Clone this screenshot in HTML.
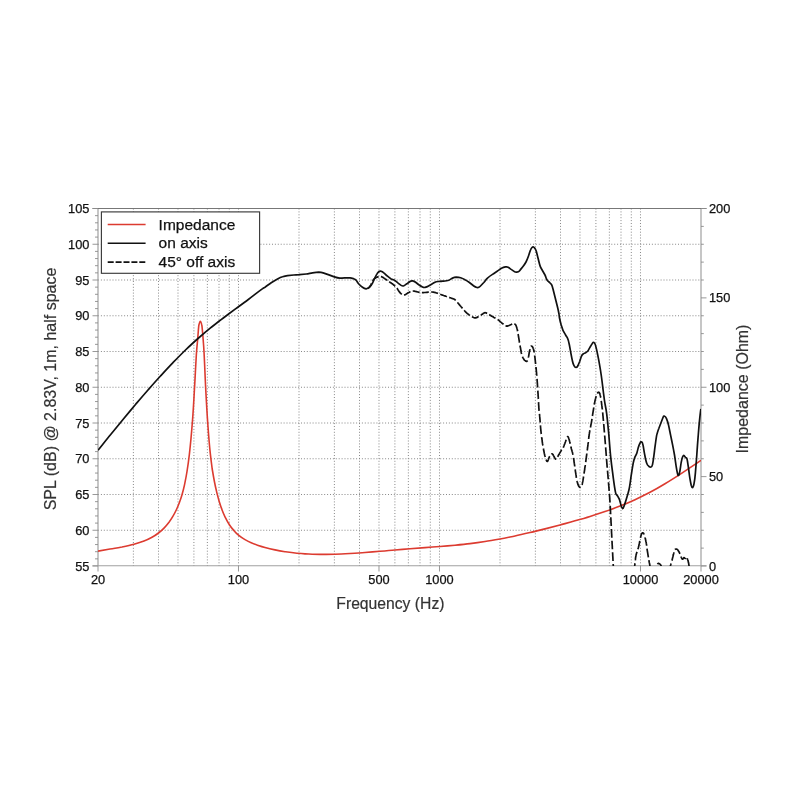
<!DOCTYPE html><html><head><meta charset="utf-8"><title>Frequency response</title>
<style>html,body{margin:0;padding:0;background:#fff}svg{display:block;will-change:transform}text{font-family:"Liberation Sans",Arial,sans-serif}.t{fill:#111;stroke:#111;stroke-width:.25px}.l{fill:#333;stroke:#333;stroke-width:.2px}</style></head><body>
<svg width="800" height="800" viewBox="0 0 800 800">
<rect width="800" height="800" fill="#fff"/>
<path d="M98.0 530.25H701.0M98.0 494.50H701.0M98.0 458.75H701.0M98.0 423.00H701.0M98.0 387.25H701.0M98.0 351.50H701.0M98.0 315.75H701.0M98.0 280.00H701.0M98.0 244.25H701.0M133.39 208.5V566.0M158.51 208.5V566.0M177.99 208.5V566.0M193.90 208.5V566.0M207.36 208.5V566.0M219.01 208.5V566.0M229.30 208.5V566.0M238.49 208.5V566.0M299.00 208.5V566.0M334.39 208.5V566.0M359.51 208.5V566.0M378.99 208.5V566.0M394.90 208.5V566.0M408.36 208.5V566.0M420.01 208.5V566.0M430.30 208.5V566.0M439.49 208.5V566.0M500.00 208.5V566.0M535.39 208.5V566.0M560.51 208.5V566.0M579.99 208.5V566.0M595.90 208.5V566.0M609.36 208.5V566.0M621.01 208.5V566.0M631.30 208.5V566.0M640.49 208.5V566.0" stroke="#7a7a7a" stroke-width="0.9" stroke-dasharray="1 1.9" fill="none"/>
<path d="M98.0 208.5V566.0M701.0 208.5V566.0" stroke="#a8a8a8" stroke-width="1.3" fill="none"/>
<path d="M92.5 208.5H706.5" stroke="#707070" stroke-width="0.95" fill="none"/>
<path d="M92.5 565.8H706.5" stroke="#a0a0a0" stroke-width="1.1" fill="none"/>
<path d="M92.5 566.00H98.0M95.0 558.85H98.0M95.0 551.70H98.0M95.0 544.55H98.0M95.0 537.40H98.0M92.5 530.25H98.0M95.0 523.10H98.0M95.0 515.95H98.0M95.0 508.80H98.0M95.0 501.65H98.0M92.5 494.50H98.0M95.0 487.35H98.0M95.0 480.20H98.0M95.0 473.05H98.0M95.0 465.90H98.0M92.5 458.75H98.0M95.0 451.60H98.0M95.0 444.45H98.0M95.0 437.30H98.0M95.0 430.15H98.0M92.5 423.00H98.0M95.0 415.85H98.0M95.0 408.70H98.0M95.0 401.55H98.0M95.0 394.40H98.0M92.5 387.25H98.0M95.0 380.10H98.0M95.0 372.95H98.0M95.0 365.80H98.0M95.0 358.65H98.0M92.5 351.50H98.0M95.0 344.35H98.0M95.0 337.20H98.0M95.0 330.05H98.0M95.0 322.90H98.0M92.5 315.75H98.0M95.0 308.60H98.0M95.0 301.45H98.0M95.0 294.30H98.0M95.0 287.15H98.0M92.5 280.00H98.0M95.0 272.85H98.0M95.0 265.70H98.0M95.0 258.55H98.0M95.0 251.40H98.0M92.5 244.25H98.0M95.0 237.10H98.0M95.0 229.95H98.0M95.0 222.80H98.0M95.0 215.65H98.0M92.5 208.50H98.0M701.0 566.00H706.5M701.0 548.12H703.8M701.0 530.25H703.8M701.0 512.38H703.8M701.0 494.50H703.8M701.0 476.62H706.5M701.0 458.75H703.8M701.0 440.88H703.8M701.0 423.00H703.8M701.0 405.12H703.8M701.0 387.25H706.5M701.0 369.38H703.8M701.0 351.50H703.8M701.0 333.62H703.8M701.0 315.75H703.8M701.0 297.88H706.5M701.0 280.00H703.8M701.0 262.12H703.8M701.0 244.25H703.8M701.0 226.38H703.8M701.0 208.50H706.5M98.00 566.0V571.5M238.49 566.0V571.5M378.99 566.0V571.5M439.49 566.0V571.5M640.49 566.0V571.5M701.00 566.0V571.5" stroke="#8c8c8c" stroke-width="0.9" fill="none"/>
<text x="89.4" y="570.55" font-size="12.8" text-anchor="end" class="t">55</text>
<text x="89.4" y="534.80" font-size="12.8" text-anchor="end" class="t">60</text>
<text x="89.4" y="499.05" font-size="12.8" text-anchor="end" class="t">65</text>
<text x="89.4" y="463.30" font-size="12.8" text-anchor="end" class="t">70</text>
<text x="89.4" y="427.55" font-size="12.8" text-anchor="end" class="t">75</text>
<text x="89.4" y="391.80" font-size="12.8" text-anchor="end" class="t">80</text>
<text x="89.4" y="356.05" font-size="12.8" text-anchor="end" class="t">85</text>
<text x="89.4" y="320.30" font-size="12.8" text-anchor="end" class="t">90</text>
<text x="89.4" y="284.55" font-size="12.8" text-anchor="end" class="t">95</text>
<text x="89.4" y="248.80" font-size="12.8" text-anchor="end" class="t">100</text>
<text x="89.4" y="213.05" font-size="12.8" text-anchor="end" class="t">105</text>
<text x="709" y="570.55" font-size="12.8" class="t">0</text>
<text x="709" y="481.18" font-size="12.8" class="t">50</text>
<text x="709" y="391.80" font-size="12.8" class="t">100</text>
<text x="709" y="302.43" font-size="12.8" class="t">150</text>
<text x="709" y="213.05" font-size="12.8" class="t">200</text>
<text x="98.00" y="584.4" font-size="12.8" text-anchor="middle" class="t">20</text>
<text x="238.49" y="584.4" font-size="12.8" text-anchor="middle" class="t">100</text>
<text x="378.99" y="584.4" font-size="12.8" text-anchor="middle" class="t">500</text>
<text x="439.49" y="584.4" font-size="12.8" text-anchor="middle" class="t">1000</text>
<text x="640.49" y="584.4" font-size="12.8" text-anchor="middle" class="t">10000</text>
<text x="701.00" y="584.4" font-size="12.8" text-anchor="middle" class="t">20000</text>
<text transform="translate(390.4 608.8) scale(.952 1)" font-size="16.5" text-anchor="middle" class="l">Frequency (Hz)</text>
<text transform="translate(56.2 389) rotate(-90) scale(.941 1)" font-size="17" text-anchor="middle" class="l">SPL (dB) @ 2.83V, 1m, half space</text>
<text transform="translate(748.3 389) rotate(-90) scale(.941 1)" font-size="17" text-anchor="middle" class="l">Impedance (Ohm)</text>
<clipPath id="c"><rect x="98" y="208.5" width="603" height="357.5"/></clipPath>
<g clip-path="url(#c)" fill="none" stroke-linejoin="round">
<path d="M98.0 551.1C102.0 550.4 106.0 549.7 110.0 549.0C114.0 548.4 118.0 547.7 122.0 547.0C126.0 546.2 130.0 545.4 134.0 544.3C137.3 543.4 140.7 542.4 144.0 541.1C146.7 540.1 149.3 538.8 152.0 537.3C154.2 536.1 156.3 534.7 158.5 533.0C160.3 531.6 162.2 530.0 164.0 528.1C165.7 526.4 167.3 524.4 169.0 522.2C170.3 520.4 171.7 518.4 173.0 516.1C174.2 514.1 175.3 512.0 176.5 509.5C177.5 507.4 178.5 505.0 179.5 502.3C180.3 500.1 181.2 497.6 182.0 494.7C182.8 491.9 183.7 488.6 184.5 484.8C185.3 481.0 186.2 476.7 187.0 471.5C187.8 466.6 188.6 461.0 189.4 454.1C190.4 445.5 191.4 434.7 192.4 421.8C193.1 413.0 193.8 401.3 194.4 390.0C195.2 377.6 195.9 359.9 196.7 350.0C197.0 346.0 197.3 343.5 197.6 340.0C197.8 337.6 198.0 334.7 198.2 332.5C198.4 329.7 198.7 326.1 198.9 325.0C199.4 322.9 199.8 321.2 200.3 321.2C200.8 321.2 201.3 322.9 201.8 325.0C202.1 326.1 202.3 329.7 202.6 332.5C202.8 334.7 203.0 337.4 203.2 340.0C203.4 343.2 203.7 346.0 203.9 350.0C204.5 359.6 205.1 377.2 205.7 388.6C206.4 401.8 207.1 414.2 207.8 424.0C208.6 435.3 209.4 445.1 210.2 452.7C210.9 459.2 211.6 464.5 212.2 469.0C213.0 473.8 213.7 477.8 214.4 481.5C215.2 485.7 216.1 489.5 216.9 492.9C217.6 495.7 218.3 498.3 219.0 500.7C220.0 503.9 220.9 506.9 221.9 509.4C222.9 512.2 224.0 514.7 225.0 516.8C226.5 519.8 227.9 522.5 229.4 524.7C230.8 526.9 232.3 528.8 233.8 530.4C235.3 532.2 236.9 533.8 238.5 535.1C240.7 536.9 242.8 538.4 245.0 539.6C247.1 540.8 249.2 541.9 251.2 542.8C253.3 543.7 255.4 544.5 257.5 545.2C260.0 546.0 262.5 546.8 265.0 547.5C268.3 548.4 271.7 549.2 275.0 549.9C278.3 550.6 281.7 551.2 285.0 551.7C291.7 552.6 298.3 553.5 305.0 553.9C310.0 554.1 315.0 554.4 320.0 554.4C325.0 554.4 330.0 554.3 335.0 554.2C340.0 554.1 345.0 553.8 350.0 553.5C355.0 553.2 360.0 552.9 365.0 552.5C370.0 552.1 375.0 551.7 380.0 551.3C385.0 550.9 390.0 550.5 395.0 550.0C400.0 549.6 405.0 549.2 410.0 548.8C415.0 548.4 420.0 548.0 425.0 547.6C430.0 547.2 435.0 546.9 440.0 546.5C445.0 546.1 450.0 545.6 455.0 545.2C460.0 544.7 465.0 544.2 470.0 543.6C475.0 543.0 480.0 542.3 485.0 541.5C490.0 540.8 495.0 539.9 500.0 539.0C505.0 538.1 510.0 537.0 515.0 536.0C520.0 534.9 525.0 533.7 530.0 532.5C535.0 531.4 540.0 530.1 545.0 528.9C550.0 527.6 555.0 526.3 560.0 525.0C565.0 523.6 570.0 522.3 575.0 520.8C580.0 519.4 585.0 518.0 590.0 516.4C595.0 514.9 600.0 513.3 605.0 511.6C610.0 509.9 615.0 508.1 620.0 506.1C625.0 504.1 630.0 502.0 635.0 499.7C640.0 497.4 645.0 494.9 650.0 492.3C655.0 489.6 660.0 486.7 665.0 483.7C670.0 480.7 675.0 477.5 680.0 474.3C685.0 471.0 690.0 467.6 695.0 464.3C697.0 463.0 699.0 461.6 701.0 460.3" stroke="#dc3b30" stroke-width="1.6"/>
<path d="M368.0 288.4L368.5 288.1L369.0 287.7L369.4 287.2L369.8 286.8L370.1 286.3L370.4 285.7L370.7 285.2L371.0 284.6L371.2 284.1L371.5 283.5L371.5 283.5M372.7 281.0L373.0 280.4L373.3 279.9L373.7 279.4L374.1 279.0L374.6 278.6L375.1 278.2L375.6 277.9L376.1 277.6L376.6 277.3L377.2 277.1L377.8 276.9L378.4 276.7L378.6 276.6M380.9 276.6L381.5 276.7L382.0 276.9L382.6 277.2L383.1 277.5L383.6 277.8L384.1 278.2L384.6 278.5L385.1 278.9L385.6 279.2L386.1 279.6L386.6 279.9L387.1 280.3L387.1 280.4M389.2 281.7L389.7 282.1L390.2 282.4L390.7 282.8L391.2 283.1L391.7 283.4L392.2 283.8L392.7 284.1L393.2 284.5L393.6 284.9L394.1 285.2L394.6 285.6L395.0 286.1L395.2 286.2M396.9 288.1L397.3 288.6L397.6 289.1L397.9 289.7L398.3 290.2L398.6 290.7L398.9 291.2L399.3 291.7L399.6 292.2L400.0 292.6L400.4 293.1L400.9 293.5L401.3 293.9L401.8 294.3L401.8 294.3M404.0 295.0L404.6 294.9L405.1 294.7L405.7 294.4L406.2 294.1L406.7 293.7L407.2 293.4L407.7 293.1L408.2 292.8L408.8 292.5L409.3 292.2L409.8 291.9L410.4 291.6L410.4 291.6M412.7 291.0L413.3 291.0L413.9 291.1L414.5 291.2L415.1 291.3L415.6 291.5L416.2 291.6L416.8 291.7L417.4 291.9L418.0 292.0L418.6 292.2L419.2 292.3L419.6 292.4M421.9 292.6L422.5 292.6L423.1 292.6L423.7 292.6L424.3 292.5L424.9 292.5L425.5 292.5L426.1 292.4L426.7 292.3L427.3 292.3L427.9 292.2L428.5 292.1L428.8 292.1M431.1 292.0L431.7 292.0L432.3 292.0L432.9 292.1L433.5 292.2L434.1 292.3L434.7 292.4L435.3 292.6L435.9 292.8L436.5 293.0L437.0 293.1L437.6 293.3L438.0 293.5M440.2 294.3L440.8 294.5L441.4 294.7L441.9 294.9L442.5 295.1L443.1 295.3L443.6 295.5L444.2 295.7L444.8 295.9L445.4 296.1L445.9 296.3L446.5 296.5L446.9 296.7M449.2 297.4L449.7 297.6L450.3 297.8L450.9 298.0L451.5 298.2L452.0 298.4L452.6 298.6L453.2 298.8L453.7 299.0L454.3 299.3L454.8 299.6L455.2 300.0L455.7 300.4M457.4 302.4L457.8 302.8L458.2 303.3L458.6 303.7L459.0 304.2L459.3 304.7L459.7 305.1L460.1 305.6L460.5 306.0L460.9 306.5L461.3 307.0L461.7 307.4L462.1 307.9L462.5 308.4L462.5 308.4M464.2 310.3L464.6 310.8L465.0 311.3L465.4 311.7L465.8 312.1L466.3 312.6L466.7 313.0L467.2 313.4L467.7 313.7L468.1 314.1L468.6 314.5L469.1 314.9L469.6 315.2L469.9 315.4M472.0 316.6L472.5 316.9L473.1 317.2L473.6 317.5L474.2 317.7L474.8 317.9L475.4 317.9L476.0 317.8L476.5 317.6L477.1 317.4L477.6 317.1L478.1 316.8L478.6 316.5M480.7 315.2L481.2 314.9L481.7 314.5L482.2 314.2L482.7 313.9L483.2 313.5L483.7 313.2L484.2 312.9L484.8 312.7L485.4 312.7L486.0 312.9L486.5 313.1L487.1 313.4L487.1 313.4M489.2 314.6L489.7 314.9L490.2 315.3L490.8 315.6L491.3 315.9L491.8 316.2L492.4 316.5L492.9 316.8L493.4 317.1L493.9 317.4L494.5 317.7L495.0 318.0L495.5 318.3L495.5 318.3M497.6 319.5L498.1 319.8L498.6 320.2L499.1 320.6L499.5 321.0L500.0 321.4L500.4 321.8L500.9 322.2L501.4 322.6L501.8 323.0L502.3 323.4L502.8 323.7L503.3 324.1L503.5 324.3M505.5 325.7L506.1 325.9L506.7 326.1L507.3 326.1L507.8 325.9L508.4 325.7L509.0 325.5L509.5 325.2L510.1 325.0L510.6 324.7L511.2 324.5L511.7 324.2L512.2 324.0M514.4 323.7L514.9 324.1L515.3 324.5L515.7 324.9L516.0 325.5L516.2 326.0L516.4 326.6L516.6 327.2L516.8 327.8L517.0 328.4L517.1 328.9L517.3 329.6L517.4 330.2L517.5 330.8L517.6 331.2M518.1 334.0L518.2 334.6L518.3 335.2L518.4 335.8L518.5 336.4L518.6 337.0L518.7 337.6L518.8 338.2L518.9 338.8L519.0 339.4L519.1 340.1L519.2 340.7L519.3 341.3L519.4 341.9L519.5 342.5L519.6 342.6M520.0 345.5L520.1 346.1L520.2 346.7L520.3 347.3L520.5 347.9L520.6 348.6L520.7 349.2L520.8 349.8L520.9 350.5L521.0 351.1L521.1 351.7L521.2 352.3L521.3 352.9L521.5 353.5L521.6 354.0M522.4 356.8L522.7 357.3L523.0 357.9L523.3 358.4L523.6 358.9L523.9 359.4L524.3 359.9L524.7 360.3L525.2 360.7L525.7 361.1L526.2 361.3L526.8 361.3L527.3 360.9L527.6 360.5M528.3 357.7L528.4 357.1L528.6 356.5L528.7 355.9L528.8 355.3L528.9 354.7L529.0 354.1L529.1 353.4L529.2 352.8L529.3 352.2L529.5 351.6L529.6 350.9L529.7 350.3L529.9 349.7L530.0 349.2M530.8 346.4L531.2 346.0L531.8 346.2L532.2 346.5L532.6 347.0L532.9 347.6L533.1 348.2L533.3 348.7L533.5 349.3L533.7 349.9L533.8 350.5L533.9 351.1L534.1 351.7L534.2 352.3L534.2 352.6M534.7 355.5L534.7 356.1L534.8 356.7L534.9 357.4L535.0 358.1L535.1 358.7L535.1 359.4L535.2 360.0L535.3 360.6L535.3 361.2L535.4 361.9L535.5 362.5L535.5 363.2L535.6 363.8L535.6 364.1M536.0 367.1L536.0 367.8L536.1 368.5L536.2 369.1L536.2 369.7L536.3 370.3L536.3 370.9L536.4 371.6L536.5 372.2L536.5 372.9L536.6 373.6L536.6 374.2L536.7 374.9L536.8 375.7L536.8 375.8M537.0 378.8L537.1 379.5L537.1 380.1L537.2 380.8L537.2 381.5L537.3 382.2L537.3 382.9L537.4 383.6L537.4 384.4L537.5 385.1L537.5 385.9L537.6 386.6L537.6 387.2L537.6 387.5M537.8 390.6L537.9 391.2L537.9 391.8L537.9 392.4L538.0 393.0L538.0 393.6L538.1 394.2L538.1 394.8L538.1 395.5L538.2 396.1L538.2 396.8L538.3 397.4L538.3 398.1L538.3 398.8L538.4 399.1M538.5 402.2L538.6 402.9L538.6 403.6L538.6 404.3L538.7 405.0L538.7 405.7L538.8 406.4L538.8 407.0L538.8 407.6L538.9 408.3L538.9 408.9L539.0 409.6L539.0 410.3L539.1 410.9M539.4 413.8L539.5 414.4L539.6 415.0L539.6 415.7L539.7 416.4L539.8 417.0L539.8 417.8L539.9 418.4L539.9 419.0L540.0 419.6L540.0 420.2L540.1 420.8L540.1 421.5L540.2 422.1L540.2 422.5M540.4 425.4L540.5 426.0L540.5 426.6L540.6 427.2L540.6 428.0L540.7 428.6L540.8 429.3L540.8 430.0L540.9 430.6L541.0 431.3L541.0 431.9L541.1 432.6L541.2 433.2L541.2 433.8L541.3 434.1M541.6 437.1L541.7 437.7L541.8 438.3L541.9 439.0L542.0 439.6L542.1 440.2L542.2 440.9L542.2 441.5L542.3 442.1L542.4 442.7L542.5 443.4L542.6 444.0L542.7 444.6L542.8 445.2L542.9 445.6M543.4 448.5L543.5 449.1L543.6 449.7L543.7 450.3L543.8 451.0L544.0 451.6L544.1 452.2L544.2 452.8L544.3 453.4L544.5 454.0L544.6 454.6L544.7 455.2L544.9 455.8L545.1 456.4L545.2 457.0M546.1 459.7L546.4 460.3L546.6 460.8L546.9 461.3L547.4 461.5L547.8 461.0L548.0 460.4L548.3 459.8L548.5 459.3L548.7 458.7L548.9 458.1L549.1 457.5L549.4 457.0L549.6 456.5L549.8 456.2M551.3 454.0L551.9 453.8L552.4 454.1L552.9 454.5L553.2 455.0L553.5 455.6L553.8 456.1L554.1 456.7L554.3 457.2L554.6 457.7L555.0 458.2L555.3 458.8L555.7 459.2L556.2 459.2M557.6 456.9L557.9 456.4L558.2 455.8L558.5 455.3L558.8 454.7L559.1 454.2L559.4 453.7L559.7 453.1L560.0 452.6L560.3 452.1L560.6 451.5L560.9 451.0L561.3 450.6L561.7 450.1L561.9 450.0M563.3 447.7L563.5 447.1L563.7 446.5L563.9 446.0L564.1 445.4L564.3 444.8L564.6 444.2L564.8 443.7L565.0 443.1L565.2 442.5L565.4 442.0L565.6 441.4L565.8 440.8L566.0 440.2L566.2 439.7M567.2 437.1L567.6 436.6L568.1 436.8L568.4 437.4L568.6 438.0L568.8 438.6L569.0 439.1L569.2 439.7L569.3 440.3L569.5 440.9L569.6 441.5L569.8 442.1L569.9 442.8L570.1 443.4L570.2 443.7M570.8 446.6L571.0 447.2L571.1 447.8L571.3 448.4L571.4 449.0L571.6 449.6L571.8 450.2L572.0 450.8L572.1 451.4L572.3 452.0L572.5 452.6L572.6 453.2L572.8 453.8L572.9 454.4L573.0 454.9M573.5 457.8L573.6 458.4L573.7 459.0L573.8 459.6L573.9 460.2L574.0 460.8L574.0 461.5L574.1 462.1L574.2 462.7L574.3 463.4L574.4 464.0L574.5 464.6L574.6 465.3L574.7 465.9L574.7 466.4M575.2 469.3L575.3 469.9L575.3 470.5L575.4 471.1L575.5 471.8L575.6 472.4L575.7 473.0L575.8 473.6L575.9 474.2L576.0 474.9L576.1 475.5L576.2 476.1L576.2 476.7L576.3 477.3L576.4 477.9M577.0 480.8L577.1 481.4L577.3 482.0L577.4 482.6L577.6 483.2L577.7 483.8L577.9 484.4L578.2 484.9L578.4 485.5L578.7 486.0L579.0 486.5L579.4 487.0L579.9 487.4L580.5 487.4L580.7 487.4M582.0 485.0L582.2 484.4L582.3 483.9L582.4 483.2L582.5 482.6L582.7 482.0L582.8 481.4L582.9 480.8L583.0 480.2L583.1 479.5L583.2 478.9L583.3 478.3L583.4 477.7L583.5 477.1L583.6 476.5M584.0 473.6L584.1 473.0L584.2 472.4L584.3 471.8L584.4 471.2L584.5 470.6L584.6 470.0L584.7 469.4L584.7 468.8L584.8 468.2L584.9 467.6L585.0 466.9L585.1 466.3L585.2 465.7L585.3 465.0L585.3 465.0M585.7 462.1L585.8 461.5L585.9 460.9L585.9 460.3L586.0 459.7L586.1 459.1L586.2 458.5L586.3 457.9L586.3 457.2L586.4 456.6L586.5 456.0L586.6 455.4L586.7 454.8L586.7 454.2L586.8 453.6L586.8 453.4M587.2 450.5L587.3 449.9L587.4 449.3L587.5 448.6L587.5 448.0L587.6 447.4L587.7 446.8L587.8 446.1L587.9 445.5L587.9 444.8L588.0 444.2L588.1 443.5L588.2 442.9L588.3 442.2L588.3 441.9M588.7 438.9L588.7 438.3L588.8 437.6L588.9 437.0L589.0 436.3L589.1 435.7L589.1 435.1L589.2 434.5L589.3 433.9L589.4 433.2L589.5 432.6L589.6 432.0L589.7 431.4L589.8 430.7L589.9 430.3M590.4 427.4L590.6 426.8L590.7 426.2L590.8 425.6L590.9 425.0L591.0 424.4L591.2 423.8L591.3 423.2L591.4 422.6L591.5 422.0L591.6 421.4L591.7 420.8L591.8 420.1L591.9 419.5L592.0 418.9M592.4 416.0L592.5 415.4L592.6 414.8L592.7 414.1L592.8 413.5L592.9 412.9L593.0 412.3L593.1 411.7L593.2 411.1L593.3 410.5L593.4 409.9L593.5 409.3L593.6 408.7L593.7 408.1L593.8 407.5L593.8 407.4M594.3 404.6L594.4 404.0L594.5 403.3L594.6 402.7L594.8 402.1L594.9 401.4L595.0 400.8L595.1 400.2L595.3 399.6L595.4 399.0L595.6 398.4L595.7 397.8L595.9 397.2L596.1 396.6L596.3 396.1M597.3 393.5L597.6 393.0L597.9 392.5L598.4 392.2L599.0 392.4L599.4 392.8L599.7 393.4L599.9 393.9L600.0 394.5L600.2 395.1L600.3 395.7L600.5 396.3L600.6 396.9L600.7 397.5L600.8 397.8M601.2 400.8L601.3 401.4L601.4 402.1L601.5 402.7L601.6 403.3L601.6 403.9L601.7 404.5L601.8 405.2L601.9 405.8L602.0 406.5L602.0 407.1L602.1 407.8L602.2 408.4L602.3 409.0L602.3 409.4M602.6 412.3L602.7 413.0L602.8 413.7L602.8 414.3L602.9 414.9L602.9 415.6L603.0 416.2L603.1 416.8L603.1 417.5L603.2 418.1L603.2 418.8L603.3 419.4L603.4 420.1L603.4 420.7L603.4 421.0M603.7 424.0L603.8 424.7L603.8 425.3L603.9 426.0L603.9 426.7L604.0 427.4L604.1 428.1L604.1 428.8L604.2 429.6L604.2 430.2L604.3 430.8L604.3 431.4L604.4 432.0L604.4 432.6M604.7 435.6L604.7 436.2L604.8 436.8L604.8 437.4L604.9 438.0L604.9 438.6L605.0 439.2L605.0 439.9L605.1 440.5L605.1 441.1L605.2 441.7L605.2 442.3L605.3 442.9L605.3 443.5L605.4 444.2L605.4 444.3M605.6 447.3L605.7 447.9L605.7 448.5L605.8 449.2L605.8 449.8L605.9 450.4L605.9 451.1L606.0 451.7L606.0 452.4L606.1 453.0L606.1 453.7L606.2 454.3L606.2 454.9L606.3 455.6L606.3 456.0M606.5 458.9L606.6 459.6L606.6 460.2L606.7 460.9L606.7 461.5L606.8 462.1L606.8 462.8L606.9 463.4L606.9 464.0L607.0 464.6L607.0 465.2L607.1 465.9L607.1 466.5L607.2 467.1L607.2 467.7M607.5 470.6L607.6 471.3L607.6 472.0L607.7 472.7L607.7 473.4L607.8 474.1L607.9 474.8L607.9 475.5L608.0 476.2L608.0 476.9L608.1 477.6L608.2 478.3L608.2 479.0L608.2 479.2M608.5 482.2L608.5 482.9L608.6 483.5L608.6 484.1L608.7 484.7L608.7 485.3L608.8 485.9L608.8 486.5L608.9 487.2L608.9 487.8L609.0 488.4L609.0 489.0L609.1 489.6L609.1 490.3L609.2 490.9M609.4 493.9L609.5 494.6L609.5 495.3L609.6 496.0L609.6 496.7L609.7 497.4L609.7 498.0L609.8 498.6L609.8 499.3L609.8 499.9L609.9 500.5L609.9 501.2L610.0 501.9L610.0 502.5M610.2 505.7L610.2 506.4L610.3 507.1L610.3 507.8L610.3 508.6L610.4 509.3L610.4 510.1L610.5 510.8L610.5 511.6L610.5 512.3L610.6 513.1L610.6 513.9L610.6 514.2M610.8 517.3L610.8 518.1L610.9 518.9L610.9 519.7L611.0 520.5L611.0 521.3L611.0 522.1L611.1 522.8L611.1 523.6L611.2 524.4L611.2 525.2L611.2 526.0M611.4 529.0L611.4 529.8L611.5 530.6L611.5 531.4L611.5 532.1L611.6 532.9L611.6 533.7L611.7 534.5L611.7 535.3L611.7 536.1L611.8 536.9L611.8 537.7M612.0 540.8L612.0 541.6L612.1 542.3L612.1 543.1L612.1 543.9L612.2 544.6L612.2 545.4L612.3 546.2L612.3 547.0L612.3 547.7L612.4 548.5L612.4 549.3M612.6 552.3L612.6 553.1L612.7 553.9L612.7 554.6L612.7 555.4L612.8 556.2L612.8 556.9L612.9 557.7L612.9 558.4L612.9 559.2L613.0 560.0L613.0 560.7L613.0 561.1M613.2 564.1L613.2 564.9L613.3 565.6L613.3 566.4L613.4 567.1L613.4 567.9L613.4 568.6L613.5 569.3L613.5 570.0L613.6 570.8L613.6 571.5L613.6 572.2L613.7 572.7M634.2 572.0L634.2 571.3L634.3 570.7L634.3 570.1L634.4 569.4L634.4 568.8L634.5 568.2L634.6 567.5L634.6 566.8L634.7 566.2L634.7 565.5L634.8 564.9L634.9 564.3L634.9 563.6L635.0 563.3M635.3 560.3L635.4 559.7L635.5 559.0L635.5 558.4L635.6 557.7L635.7 557.1L635.8 556.5L635.9 555.9L636.0 555.2L636.2 554.6L636.3 554.0L636.5 553.4L636.7 552.8L636.9 552.3L637.1 551.9M637.9 549.2L638.1 548.6L638.3 548.0L638.4 547.4L638.6 546.8L638.7 546.2L638.9 545.6L639.0 545.0L639.1 544.4L639.2 543.8L639.4 543.2L639.5 542.6L639.6 542.0L639.7 541.4L639.8 540.8M640.5 537.9L640.6 537.3L640.7 536.7L640.9 536.1L641.0 535.5L641.2 534.9L641.4 534.3L641.7 533.8L642.0 533.3L642.4 532.9L643.0 532.8L643.5 533.2L643.8 533.8L644.0 534.3L644.1 534.6M645.0 537.3L645.1 537.9L645.3 538.5L645.4 539.1L645.6 539.7L645.7 540.3L645.8 540.9L645.9 541.5L646.1 542.1L646.2 542.7L646.3 543.4L646.4 544.0L646.5 544.6L646.6 545.2L646.6 545.8M647.0 548.7L647.1 549.3L647.2 549.9L647.3 550.6L647.4 551.2L647.5 551.8L647.6 552.4L647.7 553.1L647.8 553.7L647.9 554.3L648.0 554.9L648.1 555.6L648.2 556.2L648.3 556.8L648.4 557.3M648.9 560.2L649.0 560.8L649.1 561.4L649.2 562.0L649.3 562.7L649.5 563.3L649.6 563.9L649.7 564.5L649.8 565.1L649.9 565.7L650.0 566.4L650.0 567.0L650.1 567.7L650.2 568.3L650.3 568.8M656.3 572.0L656.4 571.3L656.4 570.6L656.5 570.0L656.5 569.3L656.6 568.7L656.7 568.0L656.8 567.4L656.8 567.0M657.6 564.3L657.8 563.7L658.3 563.3L658.8 563.4L659.4 563.7L659.9 564.1L660.3 564.5L660.7 565.0L661.0 565.5L661.2 566.1L661.4 566.7L661.5 567.3L661.6 567.9L661.6 568.6M662.0 571.6L662.0 572.0M669.8 572.0L669.8 571.3L669.9 570.7L669.9 570.1L670.0 569.4L670.1 568.7L670.1 568.1L670.2 567.4L670.3 566.7L670.4 566.1L670.5 565.5L670.7 564.9L670.8 564.3L671.0 563.7L671.1 563.4M671.9 560.6L672.1 560.1L672.2 559.4L672.4 558.9L672.5 558.2L672.7 557.6L672.8 557.0L673.0 556.4L673.1 555.8L673.3 555.1L673.4 554.5L673.6 553.9L673.7 553.3L673.9 552.7L674.0 552.3M675.0 549.6L675.4 549.2L675.9 549.0L676.5 549.1L677.1 549.3L677.6 549.7L678.0 550.2L678.3 550.7L678.6 551.2L678.9 551.7L679.2 552.3L679.5 552.8L679.7 553.4L680.0 553.9M681.0 556.5L681.2 557.1L681.4 557.6L681.7 558.2L682.0 558.7L682.4 559.2L682.9 559.1L683.2 558.6L683.5 558.1L683.8 557.6L684.4 557.8L684.8 558.3L685.3 558.5L685.7 558.0L685.7 557.9M687.2 558.3L687.4 558.9L687.6 559.5L687.8 560.0L688.0 560.6L688.2 561.3L688.3 561.8L688.4 562.5L688.6 563.1L688.7 563.7L688.8 564.3L688.9 564.9L689.0 565.6L689.1 566.2L689.2 566.7M689.6 569.6L689.6 570.3L689.7 571.0L689.8 571.6L689.8 571.9" stroke="#111" stroke-width="1.7"/>
<path d="M98.0 450.3C102.2 445.1 106.3 439.9 110.5 434.8C114.7 429.6 118.8 424.6 123.0 419.5C127.2 414.4 131.3 409.5 135.5 404.5C139.7 399.6 143.8 394.8 148.0 390.0C152.2 385.2 156.3 380.5 160.5 376.0C164.7 371.4 168.8 366.9 173.0 362.6C177.2 358.3 181.3 354.1 185.5 350.0C189.7 346.0 193.8 342.1 198.0 338.5C202.2 334.8 206.3 331.3 210.5 327.9C214.7 324.6 218.8 321.3 223.0 318.2C227.2 315.1 231.3 312.0 235.5 308.9C239.7 305.9 243.8 302.8 248.0 299.7C252.9 296.1 257.7 292.1 262.6 288.6C263.4 288.0 264.2 287.7 265.0 287.2C267.1 285.8 269.2 284.1 271.2 282.8C273.3 281.4 275.4 280.1 277.5 279.0C279.2 278.1 280.8 277.3 282.5 276.8C284.2 276.2 285.8 275.8 287.5 275.6C289.6 275.4 291.7 275.2 293.8 275.0C295.5 274.9 297.2 274.7 299.0 274.6C301.4 274.4 303.8 274.2 306.2 274.0C308.3 273.8 310.4 273.2 312.5 272.9C314.6 272.6 316.7 272.3 318.8 272.2C320.2 272.2 321.7 272.4 323.1 272.9C324.6 273.4 326.0 273.9 327.5 274.4C329.8 275.2 332.1 276.1 334.4 276.9C336.3 277.6 338.1 278.1 340.0 278.1C341.7 278.1 343.3 278.0 345.0 277.9C346.7 277.8 348.3 277.8 350.0 277.8C351.2 277.7 352.5 278.3 353.8 278.8C354.5 279.0 355.2 279.5 356.0 280.2C356.9 281.1 357.8 283.0 358.8 284.0C360.0 285.3 361.2 286.4 362.5 287.2C363.8 288.1 365.0 288.6 366.2 288.8C367.3 288.8 368.3 288.2 369.4 287.2C370.4 286.3 371.5 285.1 372.5 283.1C373.3 281.5 374.2 279.2 375.0 277.5C375.8 275.8 376.7 274.3 377.5 273.1C378.5 271.7 379.6 271.1 380.6 271.2C381.7 271.4 382.7 271.8 383.8 272.8C385.0 273.8 386.2 275.2 387.5 276.2C388.8 277.3 390.0 278.2 391.2 279.0C392.4 279.7 393.6 279.5 394.8 280.4C395.9 281.2 397.0 282.2 398.1 283.1C399.2 283.9 400.2 284.7 401.2 285.4C402.1 286.0 402.9 286.2 403.8 285.8C404.8 285.2 405.8 284.5 406.9 283.8C407.9 283.0 409.0 282.2 410.0 281.5C410.8 280.9 411.7 280.8 412.5 280.9C413.5 281.1 414.6 281.5 415.6 282.2C416.7 283.0 417.7 284.0 418.8 284.8C420.0 285.6 421.2 286.4 422.5 287.0C423.3 287.4 424.2 287.6 425.0 287.4C426.0 287.2 427.1 286.9 428.1 286.2C429.2 285.6 430.2 285.0 431.2 284.4C432.5 283.7 433.8 282.9 435.0 282.2C436.0 281.7 437.1 281.6 438.1 281.5C439.6 281.4 441.0 281.4 442.5 281.2C443.3 281.2 444.2 281.1 445.0 281.0C446.2 280.9 447.5 280.6 448.8 280.2C450.0 279.9 451.2 278.6 452.5 278.1C453.8 277.6 455.0 277.3 456.2 277.2C457.7 277.2 459.2 277.3 460.6 277.8C462.1 278.3 463.5 278.9 465.0 279.8C466.5 280.6 467.9 281.5 469.4 282.5C470.8 283.5 472.3 284.9 473.8 286.0C474.8 286.8 475.8 287.3 476.9 287.5C477.9 287.7 479.0 287.5 480.0 286.5C481.2 285.3 482.5 283.9 483.8 282.5C485.0 281.1 486.2 279.2 487.5 278.1C489.2 276.6 490.8 275.5 492.5 274.4C494.2 273.3 495.8 272.1 497.5 271.0C499.0 270.0 500.4 269.0 501.9 268.1C503.1 267.3 504.4 267.1 505.6 266.9C506.4 266.8 507.3 266.7 508.1 267.2C509.2 267.9 510.2 268.7 511.2 269.4C512.3 270.1 513.4 270.9 514.4 271.6C515.2 272.2 516.1 272.1 516.9 272.1C517.7 272.1 518.6 272.0 519.4 271.0C519.6 270.8 519.8 270.5 520.0 270.2C521.0 268.9 522.0 267.8 523.0 266.5C524.0 265.2 525.0 263.8 526.0 262.0C526.8 260.5 527.7 258.2 528.5 256.0C529.2 254.2 529.8 251.7 530.5 250.0C531.0 248.7 531.5 248.0 532.0 247.5C532.5 247.0 533.0 246.8 533.5 247.0C534.0 247.2 534.5 247.7 535.0 248.5C535.5 249.3 536.0 250.0 536.5 252.0C537.0 254.0 537.5 256.0 538.0 258.0C538.5 260.0 539.0 262.0 539.5 264.0C540.0 266.0 540.5 267.1 541.0 268.0C541.7 269.2 542.3 270.3 543.0 271.5C543.7 272.7 544.3 273.8 545.0 275.0C545.5 275.9 546.0 278.0 546.5 279.0C547.0 280.0 547.5 280.7 548.0 281.2C548.7 281.8 549.3 282.2 550.0 282.8C550.5 283.2 551.0 283.7 551.5 284.5C552.0 285.3 552.5 287.0 553.0 289.0C553.5 291.0 554.0 293.0 554.5 295.0C555.0 297.0 555.5 299.0 556.0 301.0C556.5 303.0 557.0 305.0 557.5 307.0C558.0 309.0 558.5 311.4 559.0 314.0C559.1 314.7 559.3 316.8 559.4 317.5C560.0 320.6 560.6 323.0 561.2 325.0C561.9 327.0 562.5 329.4 563.1 330.6C563.9 332.2 564.8 333.6 565.6 335.0C566.2 336.1 566.9 337.0 567.5 338.1C568.1 339.2 568.8 341.8 569.4 345.0C569.9 347.7 570.5 350.9 571.0 353.8C571.5 356.4 572.0 359.0 572.5 361.2C573.0 363.5 573.5 364.7 574.0 365.6C574.6 366.8 575.3 367.5 575.9 367.5C576.5 367.5 577.1 367.3 577.8 366.0C578.4 364.6 579.1 363.0 579.8 361.2C580.3 359.7 580.9 357.6 581.5 356.2C582.0 355.0 582.6 354.4 583.1 354.0C583.9 353.4 584.8 353.3 585.6 352.8C586.4 352.2 587.3 351.9 588.1 350.6C588.9 349.3 589.8 347.7 590.6 346.2C591.2 345.2 591.9 344.1 592.5 343.1C593.0 342.3 593.5 342.3 594.0 342.5C594.5 342.7 595.1 343.7 595.6 345.6C596.2 347.9 596.9 350.6 597.5 353.8C598.1 356.9 598.8 360.2 599.4 363.8C600.0 367.2 600.6 370.4 601.2 375.0C601.9 379.6 602.5 385.1 603.1 390.0C603.5 393.4 604.0 396.7 604.4 400.0C605.2 405.8 605.9 407.4 606.7 413.8C607.4 419.4 608.1 427.0 608.8 434.4C609.4 441.8 610.1 451.3 610.8 457.8C611.5 464.4 612.2 469.5 612.9 474.9C613.4 479.0 614.0 482.9 614.5 486.6C615.0 489.8 615.4 492.8 615.9 493.8C616.5 495.1 617.1 495.2 617.7 496.2C618.3 497.3 618.9 498.3 619.5 499.7C620.0 501.0 620.6 503.9 621.1 505.6C621.6 507.1 622.0 508.5 622.5 508.6C623.0 508.7 623.6 507.5 624.1 505.9C624.7 504.1 625.3 502.3 625.9 500.4C626.6 498.2 627.3 495.9 628.0 493.5C628.5 491.7 629.1 489.7 629.6 486.6C630.2 483.1 630.8 478.1 631.4 474.2C632.0 470.4 632.6 466.5 633.2 463.2C633.8 460.2 634.3 458.6 634.9 457.1C635.5 455.5 636.1 455.4 636.7 453.6C637.2 452.0 637.8 449.1 638.3 447.4C638.9 445.5 639.5 444.1 640.1 442.9C640.6 441.8 641.2 441.6 641.8 441.9C642.2 442.2 642.6 443.1 643.1 445.4C643.6 447.8 644.0 451.1 644.5 453.6C645.0 456.1 645.4 458.6 645.9 460.5C646.4 462.7 647.0 464.1 647.5 464.9C648.1 465.8 648.7 466.3 649.3 466.7C649.9 467.1 650.5 467.1 651.1 467.0C651.6 466.9 652.0 466.6 652.5 464.6C652.9 462.8 653.4 459.6 653.8 456.4C654.3 452.9 654.7 448.9 655.2 445.4C655.8 441.2 656.3 436.6 656.9 434.4C657.6 431.8 658.2 429.9 658.9 428.2C659.6 426.4 660.3 424.5 661.0 422.7C661.7 420.9 662.4 419.0 663.1 417.2C663.6 415.8 664.2 416.0 664.7 416.2C665.3 416.4 665.9 417.2 666.5 418.6C667.2 420.3 667.9 422.0 668.6 425.4C669.3 428.6 669.9 431.8 670.6 435.1C671.3 438.5 672.0 442.0 672.7 445.4C673.3 448.4 673.9 451.6 674.5 455.0C675.0 458.0 675.6 462.6 676.1 466.0C676.6 469.0 677.0 471.5 677.5 473.6C677.9 475.3 678.2 475.7 678.6 475.3C679.0 474.9 679.4 473.6 679.8 471.5C680.3 468.9 680.8 464.4 681.3 461.9C681.8 459.5 682.2 457.5 682.7 456.6C683.2 455.7 683.6 455.2 684.1 455.7C684.6 456.2 685.0 457.0 685.5 457.5C685.9 458.0 686.4 457.6 686.8 458.4C687.3 459.3 687.7 462.9 688.2 466.0C688.8 469.8 689.3 474.7 689.9 478.4C690.4 481.3 690.8 483.4 691.2 485.2C691.7 487.1 692.1 487.7 692.6 487.7C693.1 487.7 693.5 486.3 694.0 483.9C694.5 481.5 694.9 479.1 695.4 472.9C695.9 466.9 696.3 461.0 696.8 455.0C697.2 449.0 697.6 443.1 698.1 437.1C698.6 430.9 699.0 425.6 699.5 420.6C700.0 415.6 700.4 412.0 700.9 408.9" stroke="#111" stroke-width="1.7"/>
</g>
<rect x="101.4" y="211.9" width="158.2" height="61.4" fill="#fff" stroke="#3a3a3a" stroke-width="1.15"/>
<path d="M107.7 224.5H145.6" stroke="#dc3b30" stroke-width="1.6" fill="none"/>
<path d="M107.7 243.3H145.6" stroke="#111" stroke-width="1.6" fill="none"/>
<path d="M107.7 262.1H145.6" stroke="#111" stroke-width="1.6" stroke-dasharray="6 1.9" fill="none"/>
<text x="158.6" y="229.7" font-size="15.5" class="t">Impedance</text>
<text x="158.6" y="248.3" font-size="15.5" class="t">on axis</text>
<text x="158.6" y="266.9" font-size="15.5" class="t">45° off axis</text>
</svg></body></html>
